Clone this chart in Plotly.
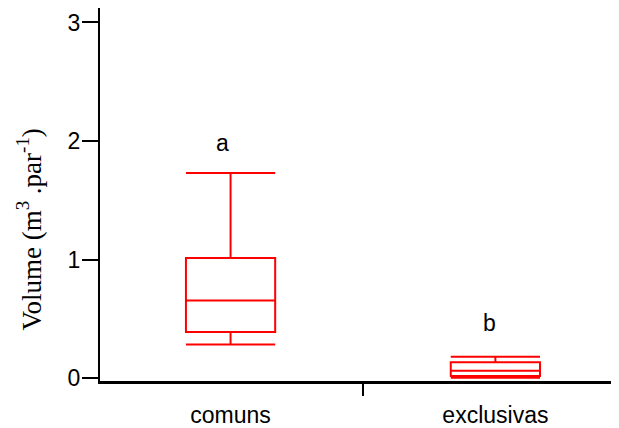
import plotly.graph_objects as go

# Data
categories = ["comuns", "exclusivas"]
positions = [0, 1]
lower_fence = [0.285, 0.004]
q1 = [0.39, 0.019]
median = [0.655, 0.064]
q3 = [1.015, 0.135]
upper_fence = [1.73, 0.182]
letters = ["a", "b"]
letter_y = [1.98, 0.47]
letter_x = [-0.03, 0.977]
y_ticks = [0, 1, 2, 3]

fig = go.Figure()
for i in range(len(categories)):
    fig.add_trace(go.Box(
        x=[positions[i]],
        q1=[q1[i]], median=[median[i]], q3=[q3[i]],
        lowerfence=[lower_fence[i]], upperfence=[upper_fence[i]],
        width=0.337, whiskerwidth=1,
        line=dict(color="#FF0000", width=2),
        fillcolor="rgba(0,0,0,0)",
        boxpoints=False, showlegend=False, name=categories[i],
    ))

for i in range(len(letters)):
    fig.add_annotation(x=letter_x[i], y=letter_y[i], text=letters[i],
                       showarrow=False, xref="x", yref="y",
                       font=dict(family="Liberation Sans, Arial", size=23, color="black"))

fig.add_annotation(x=-0.137, y=0.406, xref="paper", yref="paper",
                   text="Volume (m<sup>3</sup> .par<sup>-1</sup>)", textangle=-90,
                   showarrow=False, xanchor="center", yanchor="middle",
                   font=dict(family="Liberation Serif, Times New Roman", size=27, color="black"))

fig.update_layout(
    width=611, height=420,
    margin=dict(l=92, r=1, t=0, b=47),
    paper_bgcolor="white", plot_bgcolor="white",
    font=dict(family="Liberation Sans, Arial", size=23, color="black"),
    xaxis=dict(
        range=[-0.493, 1.463],
        tickmode="array", tickvals=positions, ticktext=categories,
        ticks="outside", ticklen=12, tickcolor="rgba(0,0,0,0)",
        showline=True, linecolor="black", linewidth=2.5,
        showgrid=False, zeroline=False,
        minor=dict(tickmode="array", tickvals=[0.5], ticks="outside", ticklen=12,
                   tickwidth=2, tickcolor="black", showgrid=False),
    ),
    yaxis=dict(
        range=[-0.023, 3.122],
        tickmode="array", tickvals=y_ticks,
        ticks="outside", ticklen=16, tickwidth=2, tickcolor="black",
        ticklabelstandoff=-3,
        showline=True, linecolor="black", linewidth=2,
        showgrid=False, zeroline=False,
    ),
)

fig.write_html("out.html")
